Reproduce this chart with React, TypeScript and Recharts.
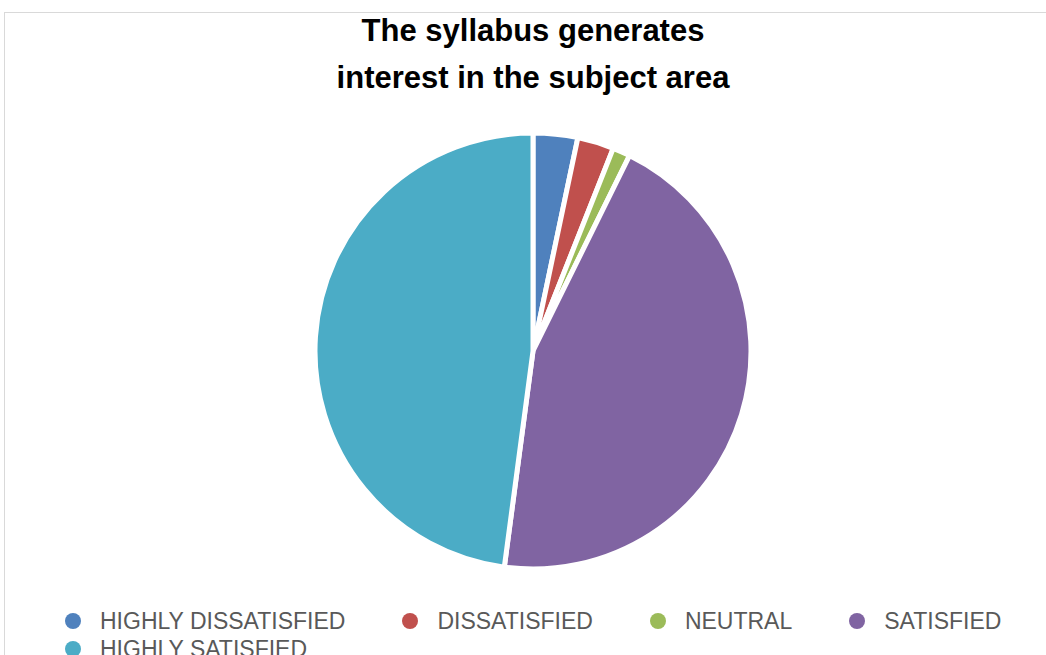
import React from 'react';
import { PieChart, Pie, Cell, Legend } from 'recharts';

const categories = ['HIGHLY DISSATISFIED', 'DISSATISFIED', 'NEUTRAL', 'SATISFIED', 'HIGHLY SATISFIED'];
const values = [3.3, 2.7, 1.3, 44.8, 47.9];
const colors = ['#4F81BD', '#C0504D', '#9BBB59', '#8064A2', '#4BACC6'];
const titleLines = ['The syllabus generates', 'interest in the subject area'];

const data = categories.map((name, i) => ({ name, value: values[i] }));

const FONT = "'Liberation Sans', Arial, sans-serif";

const renderLegend = (props: any) => {
  const payload = [...(props.payload || [])].sort(
    (a: any, b: any) => categories.indexOf(a.value) - categories.indexOf(b.value)
  );
  return (
    <div style={{ display: 'flex', flexWrap: 'wrap', fontFamily: FONT, fontSize: 23, color: '#595959', lineHeight: '28px' }}>
      {payload.map((entry: any, i: number) => (
        <div key={i} style={{ display: 'flex', alignItems: 'center', marginRight: 57, whiteSpace: 'nowrap' }}>
          <span style={{ display: 'inline-block', width: 16, height: 16, borderRadius: 8, background: entry.color, marginRight: 19 }} />
          <span>{entry.value}</span>
        </div>
      ))}
    </div>
  );
};

export default function App() {
  return (
    <div style={{ position: 'absolute', left: 0, top: 0, width: 1046, height: 655, overflow: 'hidden', background: '#fff' }}>
      <div style={{ position: 'absolute', left: 4, top: 12, width: 1100, height: 700, border: '1px solid #d9d9d9', boxSizing: 'border-box' }} />
      <div style={{ position: 'absolute', left: 233, top: 7, width: 600, textAlign: 'center', fontFamily: FONT, fontWeight: 'bold', fontSize: 31, lineHeight: '47px', color: '#000' }}>
        {titleLines.map((t, i) => (<div key={i}>{t}</div>))}
      </div>
      <div style={{ position: 'absolute', left: 0, top: 0 }}>
        <PieChart width={1046} height={655} margin={{ top: 0, right: 0, bottom: 0, left: 0 }}>
          <Pie
            data={data}
            dataKey="value"
            nameKey="name"
            cx={533}
            cy={351}
            outerRadius={218}
            startAngle={90}
            endAngle={-270}
            stroke="#ffffff"
            strokeWidth={5}
            isAnimationActive={false}
          >
            {data.map((d, i) => (<Cell key={d.name} fill={colors[i]} />))}
          </Pie>
          <Legend content={renderLegend} wrapperStyle={{ left: 65, top: 607, width: 1040, bottom: 'auto' }} />
        </PieChart>
      </div>
    </div>
  );
}
